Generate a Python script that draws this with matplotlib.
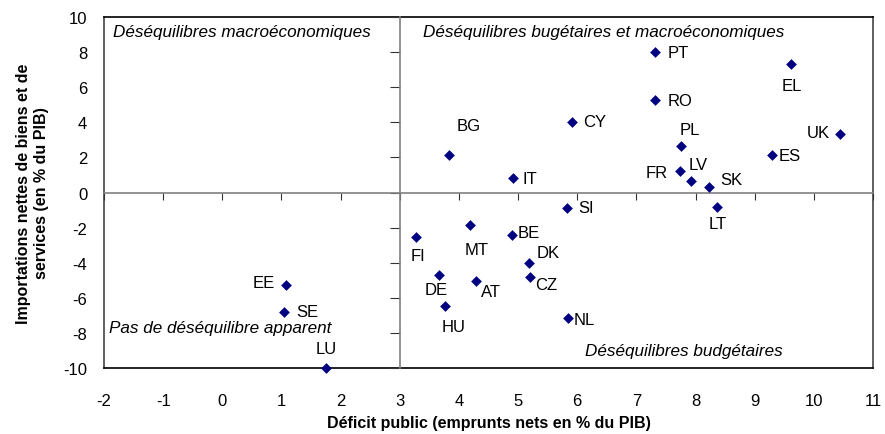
import matplotlib
matplotlib.use("Agg")
import matplotlib.pyplot as plt

plt.rcParams['font.family'] = ['Liberation Sans', 'DejaVu Sans']
plt.rcParams['axes.unicode_minus'] = False

# ---- data ----
countries = ["PT", "EL", "RO", "CY", "BG", "PL", "UK", "ES", "IT", "FR", "LV", "SK",
             "SI", "LT", "FI", "MT", "BE", "DK", "CZ", "DE", "AT", "HU", "NL",
             "EE", "SE", "LU"]
deficit = [7.32, 9.62, 7.32, 5.92, 3.84, 7.75, 10.44, 9.30, 4.92, 7.74, 7.93, 8.23,
           5.82, 8.37, 3.28, 4.18, 4.89, 5.18, 5.20, 3.66, 4.29, 3.77, 5.84,
           1.07, 1.04, 1.76]
imports = [8.00, 7.32, 5.25, 4.01, 2.13, 2.66, 3.35, 2.13, 0.82, 1.20, 0.68, 0.29,
           -0.89, -0.84, -2.51, -1.88, -2.41, -4.01, -4.79, -4.71, -5.02, -6.46, -7.15,
           -5.27, -6.79, -10.0]
x_ticks = list(range(-2, 12))
y_ticks = list(range(-10, 11, 2))
x_label = "Déficit public (emprunts nets en % du PIB)"
y_label = "Importations nettes de biens et de\nservices (en % du PIB)"
quadrants = ["Déséquilibres macroéconomiques",
             "Déséquilibres bugétaires et macroéconomiques",
             "Pas de déséquilibre apparent",
             "Déséquilibres budgétaires"]
x_split = 3
y_split = 0

# ---- label placement (pixel offsets, alignment) ----
label_pos = {
    "PT": (12, 0, "left"), "EL": (0, -21, "center"), "RO": (12, 0, "left"),
    "CY": (11, 1, "left"), "BG": (19, 30, "center"), "PL": (9, 16, "center"),
    "UK": (-10, 1, "right"), "ES": (6, 0, "left"), "IT": (9, 0, "left"),
    "FR": (-12, -1, "right"), "LV": (7, 16, "center"), "SK": (11, 8, "left"),
    "SI": (12, 1, "left"), "LT": (0, -16, "center"), "FI": (2, -19, "center"),
    "MT": (7, -24, "center"), "BE": (6, 2, "left"), "DK": (8, 10, "left"),
    "CZ": (5, -8, "left"), "DE": (-3, -14, "center"), "AT": (5, -11, "left"),
    "HU": (8, -21, "center"), "NL": (6, -2, "left"), "EE": (-11, 2, "right"),
    "SE": (12, 0, "left"), "LU": (0, 19, "center"),
}

W, H = 885, 435
fig = plt.figure(figsize=(W / 100, H / 100), dpi=100)
rect = [104 / W, 1 - 369 / H, (873 - 104) / W, (369 - 18) / H]
ax = fig.add_axes(rect)
ax.set_xlim(x_ticks[0], x_ticks[-1])
ax.set_ylim(y_ticks[0], y_ticks[-1])
ax.set_xticks(x_ticks)
ax.set_yticks(y_ticks)
ax.tick_params(length=0, labelsize=12)
ax.tick_params(axis='x', pad=18)
ax.tick_params(axis='y', pad=12)
for k, s in ax.spines.items():
    s.set_linewidth(1.2)
    s.set_color("#000000" if k in ("top", "bottom") else "#444444")

# quadrant lines with tick marks (overlay axes)
ax2 = fig.add_axes(rect, sharex=ax, sharey=ax, facecolor='none')
for k in ("top", "right"):
    ax2.spines[k].set_visible(False)
ax2.spines["left"].set_position(("data", x_split))
ax2.spines["bottom"].set_position(("data", y_split))
for k in ("left", "bottom"):
    ax2.spines[k].set_color("#808080")
    ax2.spines[k].set_linewidth(1.2)
ax2.tick_params(axis='x', direction='out', length=5, labelbottom=False,
                color="#333333")
ax2.tick_params(axis='y', direction='out', length=7, labelleft=False,
                color="#333333")

ax2.scatter(deficit, imports, marker='D', s=30, color="#000080", zorder=5,
            clip_on=False, linewidths=0)
for c, xv, yv in zip(countries, deficit, imports):
    dx, dy, ha = label_pos[c]
    ax2.annotate(c, (xv, yv), xytext=(dx, dy), textcoords='offset pixels',
                 ha=ha, va='center', fontsize=12, color="#000000")

qs = dict(fontsize=12.3, style='italic', va='center')
ax2.text(113 / W, 1 - 33 / H, quadrants[0], transform=fig.transFigure, ha='left', **qs)
ax2.text(423 / W, 1 - 33 / H, quadrants[1], transform=fig.transFigure, ha='left', **qs)
ax2.text(109 / W, 1 - 329 / H, quadrants[2], transform=fig.transFigure, ha='left', **qs)
ax2.text(783 / W, 1 - 352 / H, quadrants[3], transform=fig.transFigure, ha='right', **qs)

ax.set_xlabel(x_label, fontsize=11.5, fontweight='bold', labelpad=5)
ax.set_ylabel(y_label, fontsize=11.5, fontweight='bold', labelpad=10, linespacing=1.3)

fig.savefig("out.png", dpi=100)
